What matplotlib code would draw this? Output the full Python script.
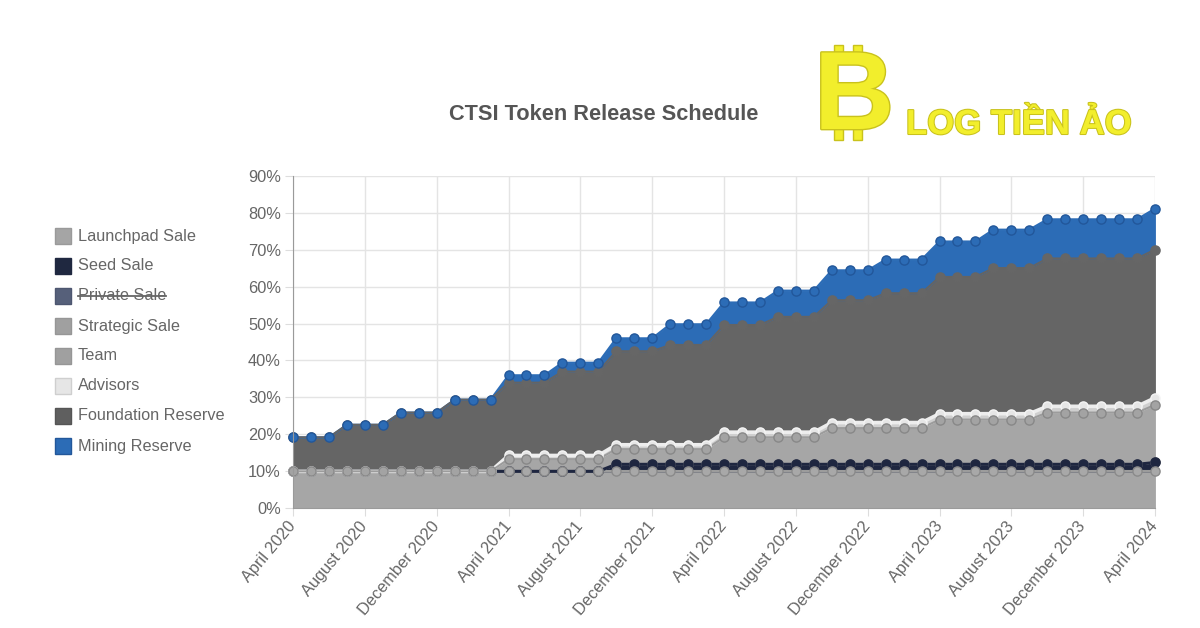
import matplotlib
matplotlib.use("Agg")
import matplotlib.pyplot as plt
from matplotlib.patches import Rectangle
from matplotlib.lines import Line2D
import matplotlib.patheffects as pe
import numpy as np

plt.rcParams['font.family'] = ['Liberation Sans', 'DejaVu Sans']

# ---------------- data (share of total supply, % , monthly Apr 2020 .. Apr 2024) -------------
tick_labels = ["April 2020", "August 2020", "December 2020", "April 2021", "August 2021",
               "December 2021", "April 2022", "August 2022", "December 2022", "April 2023",
               "August 2023", "December 2023", "April 2024"]

launchpad = [10, 10, 10, 10, 10, 10, 10, 10, 10, 10, 10, 10,
             10, 10, 10, 10, 10, 10, 10, 10, 10, 10, 10, 10,
             10, 10, 10, 10, 10, 10, 10, 10, 10, 10, 10, 10,
             10, 10, 10, 10, 10, 10, 10, 10, 10, 10, 10, 10,
             10]
seed = [0, 0, 0, 0, 0, 0, 0, 0, 0, 0, 0, 0,
        0, 0, 0, 0, 0, 0, 1.9, 1.9, 1.9, 1.9, 1.9, 1.9,
        1.9, 1.9, 1.9, 1.9, 1.9, 1.9, 1.9, 1.9, 1.9, 1.9, 1.9, 1.9,
        1.9, 1.9, 1.9, 1.9, 1.9, 1.9, 1.9, 1.9, 1.9, 1.9, 1.9, 1.9,
        2.4]
strategic = [0, 0, 0, 0, 0, 0, 0, 0, 0, 0, 0, 0,
             0, 0, 0, 0, 0, 0, 0, 0, 0, 0, 0, 0,
             0, 0, 0, 0, 0, 0, 0, 0, 0, 0, 0, 0,
             0, 0, 0, 0, 0, 0, 0, 0, 0, 0, 0, 0,
             0]
team = [0, 0, 0, 0, 0, 0, 0, 0, 0, 0, 0, 0,
        3.3, 3.3, 3.3, 3.3, 3.3, 3.3, 4.1, 4.1, 4.1, 4.1, 4.1, 4.1,
        7.3, 7.3, 7.3, 7.3, 7.3, 7.3, 9.8, 9.8, 9.8, 9.8, 9.8, 9.8,
        12.1, 12.1, 12.1, 12.1, 12.1, 12.1, 14.0, 14.0, 14.0, 14.0, 14.0, 14.0,
        15.6]
advisors = [0, 0, 0, 0, 0, 0, 0, 0, 0, 0, 0, 0,
            1.0, 1.0, 1.0, 1.0, 1.0, 1.0, 1.2, 1.2, 1.2, 1.2, 1.2, 1.2,
            1.4, 1.4, 1.4, 1.4, 1.4, 1.4, 1.5, 1.5, 1.5, 1.5, 1.5, 1.5,
            1.6, 1.6, 1.6, 1.6, 1.6, 1.6, 1.7, 1.7, 1.7, 1.7, 1.7, 1.7,
            1.9]
foundation = [9.2, 9.2, 9.2, 12.6, 12.6, 12.6, 15.9, 15.9, 15.9, 19.4, 19.4, 19.4,
              19.7, 19.7, 19.7, 22.7, 22.7, 22.7, 25.3, 25.3, 25.3, 27.0, 27.0, 27.0,
              29.0, 29.0, 29.0, 31.2, 31.2, 31.2, 33.1, 33.1, 33.1, 35.0, 35.0, 35.0,
              37.0, 37.0, 37.0, 39.4, 39.4, 39.4, 40.0, 40.0, 40.0, 40.0, 40.0, 40.0,
              40.1]
mining = [0, 0, 0, 0, 0, 0, 0, 0, 0, 0, 0, 0,
          2.0, 2.0, 2.0, 2.4, 2.4, 2.4, 3.5, 3.5, 3.5, 5.6, 5.6, 5.6,
          6.1, 6.1, 6.1, 7.1, 7.1, 7.1, 8.1, 8.1, 8.1, 9.1, 9.1, 9.1,
          9.6, 9.6, 9.6, 10.4, 10.4, 10.4, 10.6, 10.6, 10.6, 10.6, 10.6, 10.6,
          11.1]

legend_names = ["Launchpad Sale", "Seed Sale", "Private Sale", "Strategic Sale", "Team",
                "Advisors", "Foundation Reserve", "Mining Reserve"]
hidden = ["Private Sale"]

# ---------------- styles ----------------
styles = {
    "Launchpad Sale":     dict(fill='#a6a6a6', line='#9c9c9c', lw=1.5, mfc='#a8a8a8', mec='#8a8a8a', lz=2.0, mz=3.15, box='#a5a5a5', boxe='#9a9a9a'),
    "Seed Sale":          dict(fill='#1e2640', line='#1e2640', lw=2.2, mfc='#1e2640', mec='#1e2640', lz=2.1, mz=3.1, box='#1f2840', boxe='#1f2840'),
    "Private Sale":       dict(box='#56607a', boxe='#4d5670'),
    "Strategic Sale":     dict(fill='#a6a6a6', line='#9c9c9c', lw=1.5, mfc='#a3a3a3', mec='#888888', lz=2.05, mz=3.05, box='#a0a0a0', boxe='#969696'),
    "Team":               dict(fill='#a6a6a6', line='#9c9c9c', lw=1.5, mfc='#a3a3a3', mec='#888888', lz=2.3, mz=3.3, box='#a0a0a0', boxe='#969696'),
    "Advisors":           dict(fill='#cfcfcf', line='#ededed', lw=2.6, mfc='#e6e6e6', mec='#f5f5f5', lz=2.25, mz=3.2, box='#e6e6e6', boxe='#cfcfcf'),
    "Foundation Reserve": dict(fill='#656565', line='#646464', lw=1.5, mfc='#666666', mec='#666666', lz=2.4, mz=3.4, box='#5f5f5f', boxe='#555555'),
    "Mining Reserve":     dict(fill='#2c6cb6', line='#2c6cb6', lw=1.5, mfc='#2c6cb6', mec='#22579a', lz=2.35, mz=3.5, box='#2c6cb6', boxe='#22579a'),
}

W, H = 1200, 628
fig = plt.figure(figsize=(12, 6.28), dpi=100)
fig.patch.set_facecolor('white')


def fx(px):
    return px / W


def fy(py):
    return 1 - py / H


ax = fig.add_axes([fx(293), fy(508.3), fx(1155) - fx(293), fy(175.7) - fy(508.3)])

series = [("Launchpad Sale", launchpad), ("Seed Sale", seed), ("Strategic Sale", strategic),
          ("Team", team), ("Advisors", advisors), ("Foundation Reserve", foundation),
          ("Mining Reserve", mining)]

x = np.arange(len(launchpad))
base = np.zeros(len(x))
for name, vals in series:
    top = base + np.asarray(vals, dtype=float)
    st = styles[name]
    ax.fill_between(x, base, top, facecolor=st['fill'], edgecolor=st['fill'], lw=0.6, zorder=1)
    ax.plot(x, top, color=st['line'], lw=st['lw'], zorder=st['lz'], clip_on=False,
            solid_joinstyle='round')
    ax.plot(x, top, ls='none', marker='o', ms=6.6, mfc=st['mfc'], mec=st['mec'], mew=1.0,
            zorder=st['mz'], clip_on=False)
    base = top

ax.set_xlim(0, len(x) - 1)
ax.set_ylim(0, 90)
ax.set_xticks(np.arange(0, len(x), 4))
ax.set_xticklabels(tick_labels)
ax.set_yticks(np.arange(0, 91, 10))
ax.set_yticklabels([f"{v}%" for v in range(0, 91, 10)])
ax.grid(True, color='#e4e4e4', lw=1.0)
ax.set_axisbelow(True)
for s in ['top', 'right']:
    ax.spines[s].set_visible(False)
ax.spines['left'].set_color('#9a9a9a')
ax.spines['bottom'].set_color('#9a9a9a')
ax.spines['left'].set_zorder(4)
ax.spines['bottom'].set_zorder(4)
ax.tick_params(axis='both', length=5.8, color='#dddddd', labelcolor='#666666', labelsize=11.8)
ax.tick_params(axis='x', pad=5)
ax.tick_params(axis='y', pad=3)
for lbl in ax.get_xticklabels():
    lbl.set_rotation(50)
    lbl.set_ha('right')
    lbl.set_va('center')
    lbl.set_rotation_mode('anchor')

# ---------------- title ----------------
fig.text(fx(603.5), fy(115), "CTSI Token Release Schedule", ha='center', va='center',
         fontsize=15.7, weight='bold', color='#555555')

# ---------------- legend (left, vertical) ----------------
legend_y = [236, 266, 296, 326, 356, 386, 416, 446]
texts = {}
for name, yc in zip(legend_names, legend_y):
    st = styles[name]
    fig.patches.append(Rectangle((fx(55), fy(yc + 8)), 16 / W, 16 / H, facecolor=st['box'],
                                 edgecolor=st['boxe'], lw=1, transform=fig.transFigure))
    texts[name] = fig.text(fx(78), fy(yc), name, ha='left', va='center', fontsize=11.7,
                           color='#666666')

# ---------------- logo ----------------
yellow = '#f2ee2c'
edge = '#c9c21c'
fig.text(fx(814), fy(129), "B", ha='left', va='baseline', fontsize=80, weight='bold',
         color=yellow, path_effects=[pe.withStroke(linewidth=2, foreground=edge)])
for (x0, y0) in [(834, 45), (853, 45), (834, 127), (853, 127)]:
    fig.patches.append(Rectangle((fx(x0), fy(y0 + 13)), 9 / W, 13 / H, facecolor=yellow,
                                 edgecolor=edge, lw=1, transform=fig.transFigure, zorder=0))
fig.text(fx(906), fy(134), "LOG TIỀN ẢO", ha='left', va='baseline', fontsize=25, weight='bold',
         color=yellow, path_effects=[pe.withStroke(linewidth=1.5, foreground=edge)])

# ---------------- strike-through for hidden dataset ----------------
fig.canvas.draw()
for name in hidden:
    bb = texts[name].get_window_extent()
    ym = (bb.y0 + bb.y1) / 2 + 0.5
    fig.add_artist(Line2D([bb.x0 / W, bb.x1 / W], [ym / H, ym / H], transform=fig.transFigure,
                          color='#666666', lw=1.3))

fig.savefig("out.png", dpi=100, facecolor='white')
